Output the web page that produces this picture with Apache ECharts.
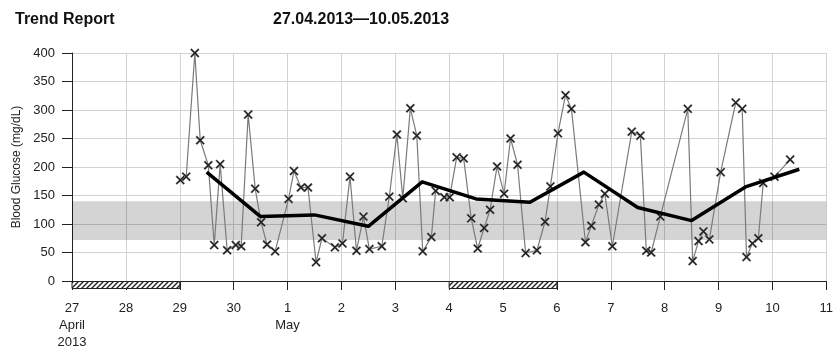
<!DOCTYPE html>
<html>
<head>
<meta charset="utf-8">
<title>Trend Report</title>
<script src="https://cdn.jsdelivr.net/npm/echarts@6/dist/echarts.min.js"></script>
<style>
  html, body { margin: 0; padding: 0; background: #fff; }
  #chart { width: 836px; height: 351px; }
</style>
</head>
<body>
<div id="chart"></div>
<script>
// Day axis: 0 = 27 April 2013, one unit per day
const dayLabels = ['27\nApril\n2013', '28', '29', '30', '1\nMay', '2', '3', '4', '5', '6', '7', '8', '9', '10', '11'];

// Individual glucose readings (day offset, mg/dL)
const readingDay = [
  2.01, 2.12, 2.28, 2.38, 2.53, 2.64, 2.75, 2.88, 3.04, 3.14, 3.27, 3.40, 3.51, 3.62, 3.77,
  4.02, 4.12, 4.25, 4.38, 4.53, 4.64, 4.88, 5.02, 5.16, 5.28, 5.41, 5.52, 5.75, 5.89,
  6.03, 6.14, 6.28, 6.40, 6.51, 6.67, 6.75, 6.91, 7.01, 7.14, 7.27, 7.41, 7.53, 7.65, 7.76, 7.89,
  8.02, 8.14, 8.27, 8.42, 8.63, 8.78, 8.88, 9.02, 9.16, 9.27, 9.53, 9.64, 9.78, 9.89,
  10.03, 10.39, 10.55, 10.66, 10.75, 10.92, 11.43, 11.52, 11.63, 11.72, 11.83,
  12.04, 12.32, 12.44, 12.52, 12.63, 12.74, 12.83, 13.04, 13.33
];
const readingValue = [
  177, 183, 400, 247, 203, 63, 205, 54, 63, 61, 292, 162, 103, 64, 52,
  144, 193, 164, 164, 33, 75, 59, 66, 183, 53, 113, 56, 61, 148,
  257, 145, 303, 255, 52, 77, 158, 147, 147, 217, 215, 110, 57, 93, 125, 201,
  153, 250, 204, 49, 54, 104, 166, 259, 326, 302, 68, 97, 134, 153,
  61, 262, 255, 53, 50, 113, 302, 35, 70, 87, 73,
  191, 313, 302, 42, 66, 75, 172, 183, 213
];

// Daily mean, plotted at midday
const meanDay = [2.5, 3.5, 4.5, 5.5, 6.5, 7.5, 8.5, 9.5, 10.5, 11.5, 12.5, 13.5];
const meanValue = [191, 113, 116, 96, 174, 144, 138, 191, 129, 106, 165, 196];

// Target range (mg/dL)
const targetLow = 72;
const targetHigh = 140;

// Weekends, as [start day, end day]
const weekendStart = [0, 7];
const weekendEnd = [2, 9];

const titleText = 'Trend Report';
const rangeText = '27.04.2013\u201410.05.2013';

function hatchPattern() {
  const c = document.createElement('canvas');
  c.width = 5; c.height = 5;
  const g = c.getContext('2d');
  g.fillStyle = '#fff';
  g.fillRect(0, 0, 5, 5);
  g.strokeStyle = '#222';
  g.lineWidth = 1.4;
  g.beginPath();
  g.moveTo(-1, 6); g.lineTo(6, -1);
  g.moveTo(-1, 1); g.lineTo(1, -1);
  g.moveTo(4, 6); g.lineTo(6, 4);
  g.stroke();
  return c;
}
const hatch = { image: hatchPattern(), repeat: 'repeat' };

const font = '"Liberation Sans", Arial, Helvetica, sans-serif';
const chart = echarts.init(document.getElementById('chart'), null, { renderer: 'canvas' });

const readings = readingDay.map((d, i) => [d, readingValue[i]]);
const means = meanDay.map((d, i) => [d, meanValue[i]]);
const weekends = weekendStart.map((s, i) => [s, weekendEnd[i], 0]);

chart.setOption({
  animation: false,
  backgroundColor: '#fff',
  textStyle: { fontFamily: font },
  title: [
    { text: titleText, left: 10, top: 7, textStyle: { fontFamily: font, fontSize: 16, fontWeight: 'bold', color: '#111' } },
    { text: rangeText, left: 268, top: 7, textStyle: { fontFamily: font, fontSize: 16, fontWeight: 'bold', color: '#111' } }
  ],
  grid: { left: 72, right: 8, top: 53, bottom: 63, containLabel: false },
  xAxis: {
    type: 'value', min: 0, max: 14, interval: 1,
    axisLine: { show: true, lineStyle: { color: '#222', width: 1 } },
    axisTick: { show: true, length: 9, lineStyle: { color: '#222' } },
    axisLabel: {
      margin: 19, color: '#222', fontSize: 13, fontFamily: font, lineHeight: 17,
      formatter: v => dayLabels[Math.round(v)] || ''
    },
    splitLine: { show: true, lineStyle: { color: '#d2d2d2', width: 1 } }
  },
  yAxis: {
    type: 'value', min: 0, max: 400, interval: 50,
    name: 'Blood Glucose (mg/dL)', nameLocation: 'middle', nameGap: 44, nameRotate: 90,
    nameTextStyle: { fontSize: 12, color: '#222', fontFamily: font },
    axisLine: { show: true, lineStyle: { color: '#222', width: 1 } },
    axisTick: { show: true, inside: false, length: 10, lineStyle: { color: '#222' } },
    axisLabel: { margin: 17, color: '#222', fontSize: 13, fontFamily: font },
    splitLine: { show: true, lineStyle: { color: '#d2d2d2', width: 1 } }
  },
  series: [
    {
      type: 'line', name: 'Target range', data: [], silent: true,
      markArea: {
        silent: true,
        itemStyle: { color: 'rgba(0,0,0,0.17)' },
        data: [[{ yAxis: targetLow }, { yAxis: targetHigh }]]
      }
    },
    {
      type: 'custom', name: 'Weekend', clip: false, silent: true, z: 5,
      encode: { x: [0, 1], y: 2 },
      data: weekends,
      renderItem: (params, api) => {
        const a = api.coord([api.value(0), 0]);
        const b = api.coord([api.value(1), 0]);
        return {
          type: 'rect',
          shape: { x: a[0], y: a[1] + 0.5, width: b[0] - a[0], height: 7 },
          style: { fill: hatch, stroke: '#222', lineWidth: 1 }
        };
      }
    },
    {
      type: 'line', name: 'Readings', data: readings, z: 3,
      lineStyle: { color: '#7a7a7a', width: 1.2 },
      symbol: 'path://M0,1.3L1.3,0L5,3.7L8.7,0L10,1.3L6.3,5L10,8.7L8.7,10L5,6.3L1.3,10L0,8.7L3.7,5Z',
      symbolSize: 9,
      itemStyle: { color: '#1a1a1a', borderColor: '#888', borderWidth: 0.4 }
    },
    {
      type: 'line', name: 'Daily mean', data: means, z: 4,
      symbol: 'none',
      lineStyle: { color: '#000', width: 3.5, join: 'round' }
    }
  ]
});
</script>
</body>
</html>
